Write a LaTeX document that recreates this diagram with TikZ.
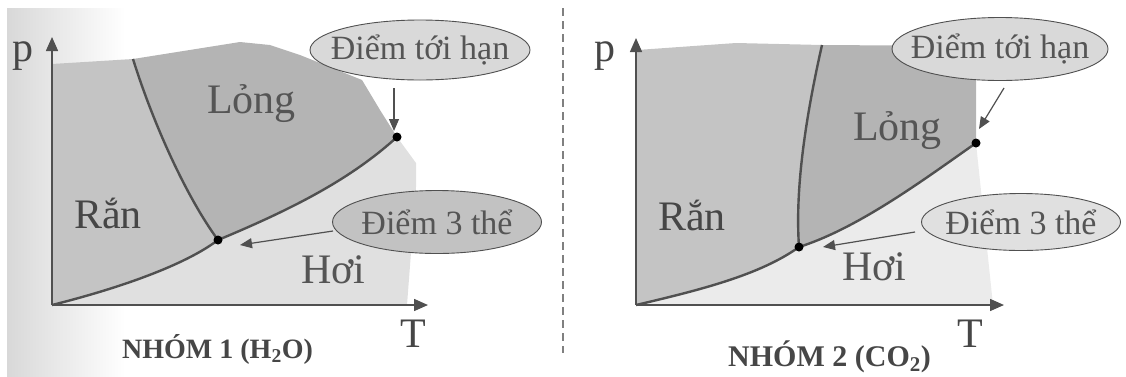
\documentclass[tikz,border=0pt]{standalone}
\usepackage{fontspec}
\setmainfont{Liberation Serif}
\usetikzlibrary{shapes.geometric,arrows.meta}
\definecolor{bggray}{HTML}{D8D8D8}
\definecolor{solidc}{HTML}{C4C4C4}
\definecolor{liqc}{HTML}{B4B4B4}
\definecolor{gasA}{HTML}{E0E0E0}
\definecolor{gasB}{HTML}{EBEBEB}
\definecolor{linec}{HTML}{505050}
\definecolor{txtc}{HTML}{464646}
\definecolor{txtl}{HTML}{555555}
\definecolor{ellA}{HTML}{D9D9D9}
\definecolor{ellB}{HTML}{C2C2C2}
\definecolor{ellC}{HTML}{E0E0E0}
\definecolor{divc}{HTML}{808080}
\tikzset{
  axis/.style={draw=linec, line width=1.5pt, -{Triangle[length=14pt,width=12pt]}},
  curve/.style={draw=linec, line width=2.4pt},
  pointer/.style={draw=linec, line width=1.2pt, -{Triangle[length=12pt,width=10pt]}},
  bubble/.style={ellipse, draw=linec, line width=0.9pt, inner sep=0pt},
  bubbletext/.style={inner sep=0pt, text=txtl, font=\fontsize{34}{40}\selectfont},
  phase/.style={anchor=base west, inner sep=0pt, text=txtc, font=\fontsize{42}{48}\selectfont},
  caption/.style={anchor=base west, inner sep=0pt, text=txtc, font=\bfseries\fontsize{28}{32}\selectfont},
  phasedot/.style={circle, fill=black, inner sep=0pt, minimum size=9pt},
  divider/.style={draw=divc, line width=1.2pt, dash pattern=on 8pt off 5pt}
}
\begin{document}
\begin{tikzpicture}[x=1pt,y=-1pt]
\useasboundingbox (0,0) rectangle (1126,376);
\shade[left color=bggray, right color=white] (7,8) rectangle (125,376);
% divider
\coordinate (dtop) at (563,8);
\coordinate (dbot) at (563,353);
\draw[divider] (dtop) -- (dbot);

% ---------- left panel ----------
\coordinate (o1) at (52,305);
\coordinate (y1) at (52,37);
\coordinate (x1) at (428,305);
\coordinate (tp1) at (218,240);
\coordinate (cp1) at (397,137);
\coordinate (sl1) at (133,59);
\fill[gasA] (o1) -- (407,305) -- (416,187) -- (416,163) -- (cp1) -- (tp1) -- cycle;
\fill[solidc] (o1) -- (52,64) -- (sl1) .. controls (152,120) and (185,195) .. (tp1)
   .. controls (185,265) and (120,288) .. (o1) -- cycle;
\fill[liqc] (sl1) -- (240,42) -- (270,45) -- (300,55) -- (362,80) -- (380,110) -- (cp1)
   .. controls (350,180) and (290,210) .. (tp1)
   .. controls (185,195) and (152,120) .. (sl1) -- cycle;
\draw[curve] (o1) .. controls (120,288) and (185,265) .. (tp1)
   .. controls (290,210) and (350,180) .. (cp1);
\draw[curve] (sl1) .. controls (152,120) and (185,195) .. (tp1);
\draw[axis] (o1) -- (y1);
\draw[axis] (o1) -- (x1);
\node[phasedot] (tpdot1) at (tp1) {};
\node[phasedot] (cpdot1) at (cp1) {};
\node[bubble, fill=ellA, minimum width=220pt, minimum height=60pt,
      label={[bubbletext]center:Điểm tới hạn}] (crit1) at (420,50) {};
\node[bubble, fill=ellB, minimum width=209pt, minimum height=63pt,
      label={[bubbletext]center:Điểm 3 thể}] (trip1) at (437,222) {};
\coordinate (a1s) at (394,88);
\coordinate (a1e) at (394,131);
\draw[pointer] (a1s) -- (a1e);
\coordinate (b1s) at (333,231);
\coordinate (b1e) at (240,245);
\draw[pointer] (b1s) -- (b1e);
\node[phase] (p1) at (12,61) {p};
\node[phase] (t1) at (400,347) {T};
\node[phase, text=txtl] (lq1) at (207,113) {Lỏng};
\node[phase] (sd1) at (74,228) {Rắn};
\node[phase, text=txtl] (gs1) at (301,283) {Hơi};
\node[caption] (cap1) at (122,358) {NHÓM 1 (H\textsubscript{2}O)};

% ---------- right panel ----------
\coordinate (o2) at (636,305);
\coordinate (y2) at (636,38);
\coordinate (x2) at (1004,305);
\coordinate (tp2) at (799,247);
\coordinate (cp2) at (976,143);
\coordinate (sl2) at (822,45);
\fill[gasB] (o2) -- (993,305) -- (cp2) -- (tp2) -- cycle;
\fill[solidc] (o2) -- (637,50) -- (736,43) -- (sl2) .. controls (805,120) and (795,190) .. (tp2)
   .. controls (760,275) and (700,290) .. (o2) -- cycle;
\fill[liqc] (sl2) -- (976,46) -- (cp2)
   .. controls (926,178) and (859,228) .. (tp2)
   .. controls (795,190) and (805,120) .. (sl2) -- cycle;
\draw[curve] (o2) .. controls (700,290) and (760,275) .. (tp2)
   .. controls (859,228) and (926,178) .. (cp2);
\draw[curve] (sl2) .. controls (805,120) and (795,190) .. (tp2);
\draw[axis] (o2) -- (y2);
\draw[axis] (o2) -- (x2);
\node[phasedot] (tpdot2) at (tp2) {};
\node[phasedot] (cpdot2) at (cp2) {};
\node[bubble, fill=ellA, minimum width=216pt, minimum height=63pt,
      label={[bubbletext]center:Điểm tới hạn}] (crit2) at (1000,49) {};
\node[bubble, fill=ellC, minimum width=199pt, minimum height=57pt,
      label={[bubbletext]center:Điểm 3 thể}] (trip2) at (1021,222) {};
\coordinate (a2s) at (1004,88);
\coordinate (a2e) at (979,129);
\draw[pointer] (a2s) -- (a2e);
\coordinate (b2s) at (915,232);
\coordinate (b2e) at (823,247);
\draw[pointer] (b2s) -- (b2e);
\node[phase] (p2) at (594,61) {p};
\node[phase] (t2) at (957,347) {T};
\node[phase, text=txtl] (lq2) at (853,140) {Lỏng};
\node[phase] (sd2) at (658,230) {Rắn};
\node[phase, text=txtl] (gs2) at (842,280) {Hơi};
\node[caption, font=\bfseries\fontsize{30}{34}\selectfont] (cap2) at (728,366) {NHÓM 2 (CO\textsubscript{2})};
\end{tikzpicture}
\end{document}
